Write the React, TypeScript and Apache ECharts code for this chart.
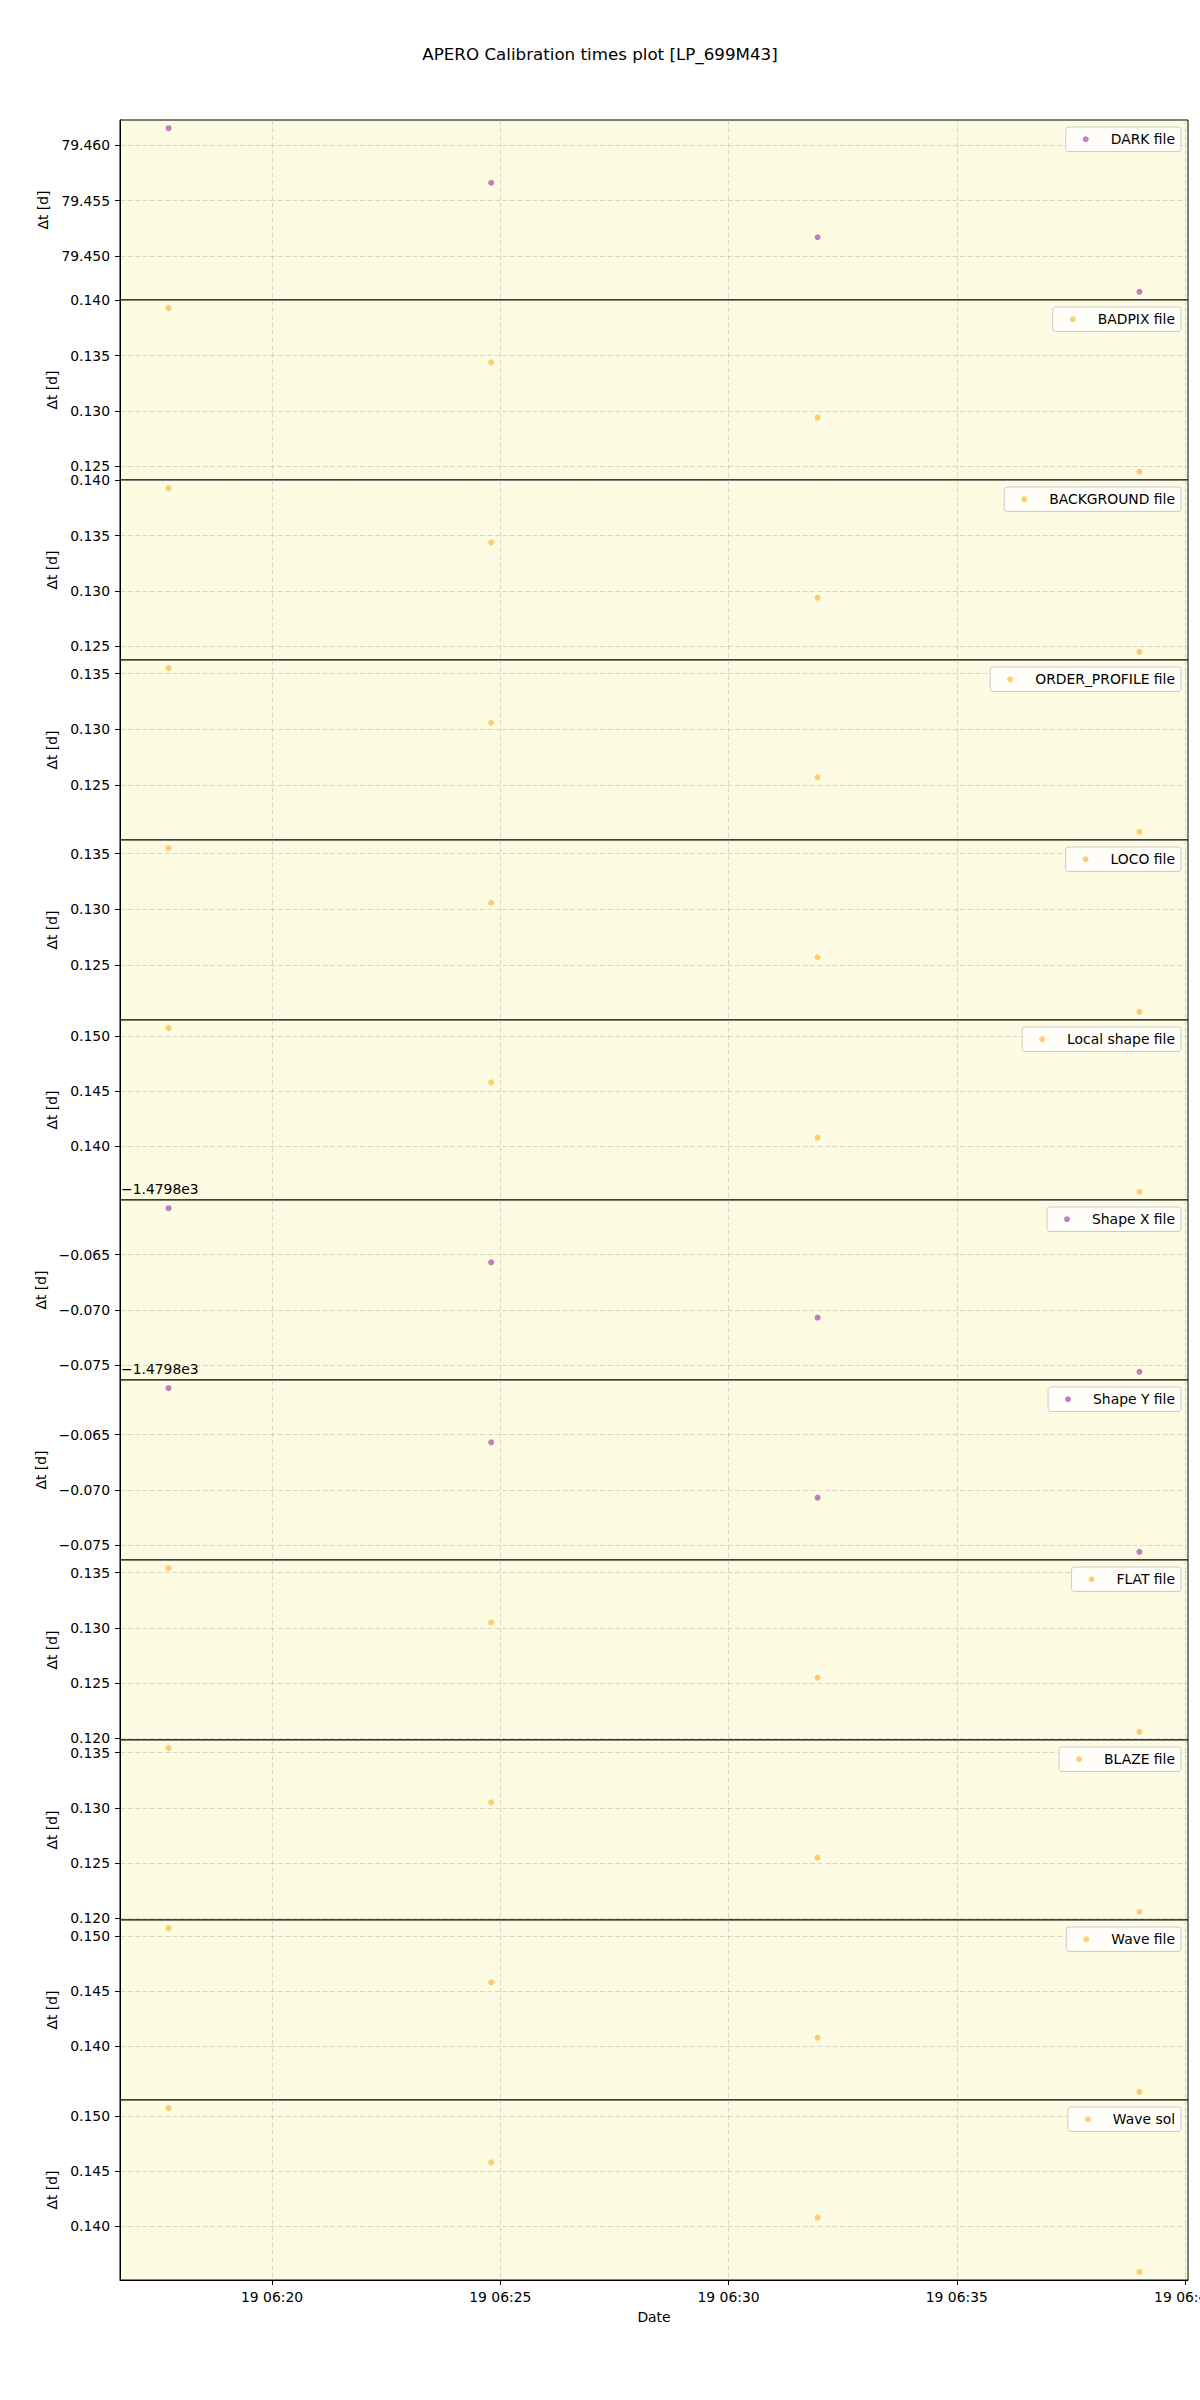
import React, { useEffect, useRef } from "react";
import * as echarts from "echarts";

const TITLE = "APERO Calibration times plot [LP_699M43]";
const X_NAME = "Date";
const Y_NAME = "Δt [d]";

const OBS_TIMES = [
  "2023-01-19 06:17:44",
  "2023-01-19 06:24:48",
  "2023-01-19 06:31:57",
  "2023-01-19 06:39:00",
];

const PANEL_NAMES = [
  "DARK file",
  "BADPIX file",
  "BACKGROUND file",
  "ORDER_PROFILE file",
  "LOCO file",
  "Local shape file",
  "Shape X file",
  "Shape Y file",
  "FLAT file",
  "BLAZE file",
  "Wave file",
  "Wave sol",
];

const PURPLE = "#b15fb2";
const ORANGE = "#ffc050";
const PANEL_COLORS = [
  PURPLE, ORANGE, ORANGE, ORANGE, ORANGE, ORANGE,
  PURPLE, PURPLE, ORANGE, ORANGE, ORANGE, ORANGE,
];

const DARK = [79.4615, 79.4566, 79.4517, 79.4468];
const BADPIX = [0.1393, 0.1344, 0.1294, 0.1245];
const BACKGROUND = [0.1393, 0.1344, 0.1294, 0.1245];
const ORDER_PROFILE = [0.1355, 0.1306, 0.1257, 0.1208];
const LOCO = [0.1355, 0.1306, 0.1257, 0.1208];
const LOCAL_SHAPE = [0.1507, 0.1458, 0.1408, 0.1359];
const SHAPE_X = [-1479.8608, -1479.8657, -1479.8707, -1479.8756];
const SHAPE_Y = [-1479.8608, -1479.8657, -1479.8707, -1479.8756];
const FLAT = [0.1354, 0.1305, 0.1255, 0.1206];
const BLAZE = [0.1354, 0.1305, 0.1255, 0.1206];
const WAVE_FILE = [0.1507, 0.1458, 0.1408, 0.1359];
const WAVE_SOL = [0.1507, 0.1458, 0.1408, 0.1359];

const PANEL_VALUES = [
  DARK, BADPIX, BACKGROUND, ORDER_PROFILE, LOCO, LOCAL_SHAPE,
  SHAPE_X, SHAPE_Y, FLAT, BLAZE, WAVE_FILE, WAVE_SOL,
];

const PANEL_OFFSETS = [0, 0, 0, 0, 0, 0, -1479.8, -1479.8, 0, 0, 0, 0];
const OFFSET_LABEL = "\u22121.4798e3";
const Y_STEP = 0.005;
const X_STEP_MS = 5 * 60 * 1000;

const FONT = "'DejaVu Sans', sans-serif";
const FS = 13.9;

function parseLocal(s: string): number {
  const [d, t] = s.split(" ");
  const [Y, M, D] = d.split("-").map(Number);
  const [h, m, sec] = t.split(":").map(Number);
  return new Date(Y, M - 1, D, h, m, sec).getTime();
}

const pad2 = (n: number) => (n < 10 ? "0" + n : "" + n);

function fmtY(v: number, off: number): string {
  const r = v - off;
  const s = Math.abs(r).toFixed(3);
  return (r < -1e-9 ? "\u2212" : "") + s;
}

function labelWidth(s: string): number {
  let w = 0;
  for (const c of s) {
    if (c === ".") w += 0.318;
    else if (c === "\u2212") w += 0.838;
    else w += 0.636;
  }
  return w * FS;
}

export default function App() {
  const ref = useRef<HTMLDivElement>(null);

  useEffect(() => {
    document.body.style.margin = "0";
    if (!ref.current) return;
    const chart = echarts.init(ref.current, undefined, { renderer: "svg" });

    const times = OBS_TIMES.map(parseLocal);
    const tMin = Math.min(...times);
    const tMax = Math.max(...times);
    const tPad = (tMax - tMin) * 0.05;
    const xMin = tMin - tPad;
    const xMax = tMax + tPad;
    const xTicks: number[] = [];
    for (let k = Math.ceil(xMin / X_STEP_MS); k <= Math.floor(xMax / X_STEP_MS); k++) {
      xTicks.push(k * X_STEP_MS);
    }

    const left = 120;
    const width = 1068;
    const top0 = 120;
    const ph = 180;
    const n = PANEL_NAMES.length;

    const grids: any[] = [];
    const xAxes: any[] = [];
    const yAxes: any[] = [];
    const series: any[] = [];
    const legends: any[] = [];
    const graphics: any[] = [];

    const gridLine = {
      show: true,
      lineStyle: { color: "rgba(150,150,150,0.35)", type: [5, 2.5], width: 1 },
    };

    for (let i = 0; i < n; i++) {
      const vals = PANEL_VALUES[i];
      const off = PANEL_OFFSETS[i];
      const vmin = Math.min(...vals);
      const vmax = Math.max(...vals);
      const vpad = (vmax - vmin) * 0.05;
      const ymin = vmin - vpad;
      const ymax = vmax + vpad;
      const ticks: number[] = [];
      for (let k = Math.ceil(ymin / Y_STEP - 1e-9); k <= Math.floor(ymax / Y_STEP + 1e-9); k++) {
        ticks.push(Math.round(k * Y_STEP * 1e6) / 1e6);
      }
      const maxLabelW = Math.max(...ticks.map((t) => labelWidth(fmtY(t, off))));
      const top = top0 + i * ph;
      const isLast = i === n - 1;

      grids.push({
        left,
        top,
        width,
        height: ph,
        show: true,
        backgroundColor: "#fdfbe2",
        borderColor: "#000",
        borderWidth: 1,
        containLabel: false,
        outerBoundsMode: "none",
      });

      xAxes.push({
        type: "value",
        gridIndex: i,
        min: xMin,
        max: xMax,
        minInterval: X_STEP_MS,
        maxInterval: X_STEP_MS,
        scale: true,
        axisLine: { show: isLast, lineStyle: { color: "#000", width: 1 } },
        axisTick: {
          show: isLast,
          inside: false,
          length: 5,
          lineStyle: { color: "#000" },
          customValues: xTicks,
        },
        axisLabel: {
          show: isLast,
          margin: 10,
          color: "#000",
          fontFamily: FONT,
          fontSize: FS,
          hideOverlap: false,
          customValues: xTicks,
          formatter: (v: number) => {
            const d = new Date(v);
            return `${d.getDate()} ${pad2(d.getHours())}:${pad2(d.getMinutes())}`;
          },
        },
        splitLine: gridLine,
        name: isLast ? X_NAME : "",
        nameLocation: "middle",
        nameGap: 30,
        nameTextStyle: { color: "#000", fontFamily: FONT, fontSize: FS },
      });

      yAxes.push({
        type: "value",
        gridIndex: i,
        min: ymin,
        max: ymax,
        minInterval: Y_STEP,
        maxInterval: Y_STEP,
        scale: true,
        axisLine: { show: true, lineStyle: { color: "#000", width: 1 } },
        axisTick: {
          show: true,
          inside: false,
          length: 5,
          lineStyle: { color: "#000" },
          customValues: ticks,
        },
        axisLabel: {
          show: true,
          margin: 10,
          color: "#000",
          fontFamily: FONT,
          fontSize: FS,
          customValues: ticks,
          formatter: (v: number) => fmtY(v, off),
        },
        splitLine: gridLine,
        name: Y_NAME,
        nameLocation: "middle",
        nameRotate: 90,
        nameGap: 10 + maxLabelW + 6,
        nameTextStyle: { color: "#000", fontFamily: FONT, fontSize: FS },
      });

      series.push({
        type: "scatter",
        name: PANEL_NAMES[i],
        xAxisIndex: i,
        yAxisIndex: i,
        symbol: "circle",
        symbolSize: 6,
        itemStyle: { color: PANEL_COLORS[i] },
        data: times.map((t, j) => [t, vals[j]]),
        z: 5,
      });

      legends.push({
        data: [{ name: PANEL_NAMES[i], icon: "circle" }],
        right: 19,
        top: top + 7,
        orient: "vertical",
        selectedMode: false,
        itemWidth: 6,
        itemHeight: 6,
        padding: [4, 6, 4, 17],
        backgroundColor: "rgba(255,255,255,0.8)",
        borderColor: "#cccccc",
        borderWidth: 1,
        borderRadius: 3,
        textStyle: {
          color: "#000",
          fontFamily: FONT,
          fontSize: FS,
          lineHeight: 16.5,
          padding: [0, 0, 0, 17],
        },
      });

      if (off !== 0) {
        graphics.push({
          type: "text",
          left: left + 1,
          top: top - 18,
          style: {
            text: OFFSET_LABEL,
            fill: "#000",
            font: `${FS}px ${FONT}`,
          },
        });
      }
    }

    chart.setOption({
      animation: false,
      backgroundColor: "#ffffff",
      title: {
        text: TITLE,
        left: "center",
        top: 45,
        padding: 0,
        textStyle: { color: "#000", fontFamily: FONT, fontSize: 16.7, fontWeight: "normal" },
      },
      grid: grids,
      xAxis: xAxes,
      yAxis: yAxes,
      legend: legends,
      series,
      graphic: graphics,
    });

    return () => chart.dispose();
  }, []);

  return <div ref={ref} style={{ width: 1200, height: 2400 }} />;
}
